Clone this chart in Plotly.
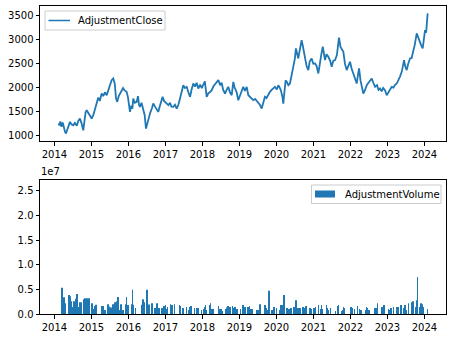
import plotly.graph_objects as go
import pandas as pd

close_dates = [
    "2014-02-10","2014-02-20","2014-03-01","2014-03-12","2014-03-24","2014-04-05","2014-04-15","2014-04-25","2014-05-08","2014-05-20","2014-06-04","2014-06-18","2014-07-06","2014-07-22","2014-08-10","2014-08-25","2014-09-10","2014-09-25","2014-10-13","2014-10-25","2014-11-05","2014-11-16","2014-11-30","2014-12-15",
    "2015-01-04","2015-01-20","2015-02-05","2015-02-22","2015-03-10","2015-03-25","2015-04-13","2015-04-28","2015-05-15","2015-06-01","2015-06-20","2015-07-05","2015-07-20","2015-08-05","2015-08-20","2015-09-01","2015-09-13","2015-09-28","2015-10-12","2015-10-27","2015-11-10","2015-11-25","2015-12-15","2015-12-28",
    "2016-01-10","2016-01-17","2016-01-30","2016-02-10","2016-02-18","2016-03-05","2016-03-23","2016-04-05","2016-04-15","2016-04-24","2016-05-10","2016-05-25","2016-06-10","2016-06-23","2016-07-05","2016-07-20","2016-08-05","2016-08-20","2016-09-03","2016-09-20","2016-10-05","2016-10-22","2016-11-05","2016-11-20","2016-12-04","2016-12-18",
    "2017-01-05","2017-01-30","2017-02-15","2017-03-01","2017-03-20","2017-04-05","2017-04-22","2017-05-10","2017-05-25","2017-06-10","2017-06-26","2017-07-12","2017-07-30","2017-08-15","2017-09-01","2017-09-15","2017-10-03","2017-10-20","2017-11-05","2017-11-21","2017-12-10","2017-12-25",
    "2018-01-10","2018-01-25","2018-02-12","2018-02-28","2018-03-15","2018-04-03","2018-04-20","2018-05-10","2018-05-25","2018-06-07","2018-06-25","2018-07-10","2018-07-25","2018-08-12","2018-08-28","2018-09-13","2018-09-30","2018-10-17","2018-11-02","2018-11-15","2018-12-05","2018-12-21",
    "2019-01-10","2019-01-25","2019-02-08","2019-02-25","2019-03-14","2019-03-30","2019-04-15","2019-05-01","2019-05-18","2019-06-05","2019-06-20","2019-07-06","2019-07-22","2019-08-09","2019-08-25","2019-09-10","2019-09-25","2019-10-10","2019-10-30","2019-11-15","2019-12-01","2019-12-18",
    "2020-01-05","2020-01-20","2020-01-30","2020-02-15","2020-03-01","2020-03-09","2020-03-20","2020-04-01","2020-04-12","2020-04-28","2020-05-14","2020-05-30","2020-06-16","2020-07-01","2020-07-12","2020-07-25","2020-08-04","2020-08-20","2020-09-06","2020-09-20","2020-10-09","2020-10-25","2020-11-11","2020-11-25","2020-12-14","2020-12-30",
    "2021-01-17","2021-02-01","2021-02-18","2021-03-05","2021-03-20","2021-04-03","2021-04-15","2021-04-25","2021-05-10","2021-05-28","2021-06-15","2021-06-30","2021-07-15","2021-08-02","2021-08-20","2021-09-01","2021-09-10","2021-09-25","2021-10-10","2021-10-23","2021-11-08","2021-11-25","2021-12-10","2021-12-28",
    "2022-01-12","2022-01-30","2022-02-15","2022-03-04","2022-03-15","2022-03-27","2022-04-10","2022-04-25","2022-05-08","2022-05-25","2022-06-11","2022-06-28","2022-07-15","2022-07-30","2022-08-15","2022-09-01","2022-09-20","2022-10-05","2022-10-20","2022-11-05","2022-11-20","2022-12-08","2022-12-25",
    "2023-01-10","2023-01-25","2023-02-12","2023-03-01","2023-03-15","2023-04-03","2023-04-20","2023-05-05","2023-05-22","2023-06-05","2023-06-14","2023-06-25","2023-07-10","2023-07-25","2023-08-12","2023-08-28","2023-09-13","2023-09-28","2023-10-17","2023-11-01","2023-11-18","2023-12-01","2023-12-15","2023-12-28",
    "2024-01-07","2024-01-18","2024-01-26","2024-02-02",
]
close_values = [
    1250,1210,1290,1180,1270,1150,1080,1036,1110,1210,1280,1230,1210,1260,1200,1300,1350,1260,1105,1300,1480,1525,1470,1400,
    1350,1420,1560,1700,1790,1720,1875,1820,1900,1840,1960,2050,2155,2190,2080,1780,1700,1820,1880,1945,1990,1940,1910,1800,
    1650,1490,1620,1560,1770,1680,1700,1820,1640,1595,1680,1550,1420,1140,1250,1400,1480,1560,1665,1600,1560,1490,1600,1720,1805,1720,
    1680,1630,1680,1600,1595,1640,1560,1650,1770,1950,2050,1990,2015,1900,1805,1950,2085,2020,2100,1980,2060,1990,
    2050,2130,1805,1880,1900,1945,2030,2080,2100,2155,2050,2100,1950,1875,1950,2015,1900,1840,2120,2000,1900,1735,
    1850,1950,2015,1930,2015,1840,1800,1780,1735,1760,1720,1700,1640,1560,1680,1805,1780,1850,1910,1950,1990,2015,
    1960,2050,2015,1940,1800,1665,1900,2150,2120,2050,2085,2250,2435,2600,2820,2700,2610,2800,2995,2850,2610,2450,2365,2550,2610,2500,
    2505,2450,2295,2550,2700,2855,2680,2575,2700,2645,2560,2435,2560,2575,2680,2900,3045,2850,2780,2750,2500,2365,2450,2540,
    2400,2295,2200,2085,2250,2400,2150,2000,1875,1950,2050,2100,2150,2190,2100,2015,2050,1950,1980,1920,1990,1945,1840,
    1900,1950,2015,2000,2050,2085,2150,2230,2330,2450,2575,2450,2365,2500,2610,2620,2750,2900,3135,3050,2925,2880,2820,3000,
    3205,3150,3310,3555,
]

volume_dates = [
    "2014-03-20","2014-04-06","2014-04-15","2014-05-25","2014-06-04","2014-06-14","2014-06-26","2014-07-13","2014-08-02","2014-08-12","2014-08-25","2014-09-13","2014-09-27","2014-10-17","2014-11-02","2014-11-16","2014-11-25","2014-12-11",
    "2015-01-10","2015-01-20","2015-01-30","2015-02-18","2015-04-09","2015-04-28","2015-05-15","2015-06-17","2015-06-30","2015-07-13","2015-08-05","2015-08-25","2015-09-07","2015-09-23","2015-10-13","2015-10-23","2015-11-12","2015-12-05","2015-12-15","2015-12-28",
    "2016-02-03","2016-02-12","2016-02-22","2016-03-13","2016-05-17","2016-05-27","2016-06-06","2016-07-05","2016-07-15","2016-07-25","2016-08-24","2016-09-22","2016-10-12","2016-11-01","2016-11-30","2016-12-17",
    "2017-01-02","2017-01-10","2017-01-20","2017-02-18","2017-02-28","2017-03-10","2017-03-30","2017-05-18","2017-05-28","2017-06-17","2017-06-26","2017-07-26","2017-08-15","2017-08-25","2017-09-13","2017-10-13","2017-11-02","2017-11-21","2017-12-21",
    "2018-01-10","2018-01-20","2018-01-30","2018-02-08","2018-03-10","2018-03-20","2018-03-30","2018-04-18","2018-06-07","2018-06-26","2018-07-06","2018-07-16","2018-08-15","2018-08-25","2018-09-04","2018-09-13","2018-10-03","2018-10-23","2018-11-02","2018-11-21","2018-12-11",
    "2019-01-10","2019-01-30","2019-02-08","2019-02-18","2019-02-25","2019-03-27","2019-04-09","2019-04-22","2019-05-08","2019-06-26","2019-07-13","2019-07-26","2019-09-04","2019-09-13","2019-09-23","2019-10-03","2019-10-23","2019-11-12","2019-11-21","2019-12-11",
    "2020-01-02","2020-01-30","2020-02-18","2020-02-28","2020-03-09","2020-03-19","2020-04-17","2020-05-07","2020-05-27","2020-06-25","2020-07-15","2020-08-04","2020-08-24","2020-09-22","2020-10-02","2020-10-12","2020-10-22","2020-11-30","2020-12-10",
    "2021-01-04","2021-01-20","2021-02-18","2021-03-10","2021-03-20","2021-03-30","2021-05-08","2021-05-18","2021-05-28","2021-06-17","2021-08-05","2021-08-25","2021-09-04","2021-10-03","2021-10-13","2021-10-23","2021-11-02",
    "2022-01-04","2022-01-20","2022-02-08","2022-03-10","2022-03-30","2022-04-18","2022-05-28","2022-06-07","2022-06-17","2022-07-06","2022-08-25","2022-09-13","2022-09-23","2022-11-02","2022-11-12","2022-11-21","2022-12-01",
    "2023-01-10","2023-01-20","2023-02-08","2023-02-28","2023-03-30","2023-04-18","2023-05-08","2023-05-18","2023-06-07","2023-06-17","2023-06-26","2023-07-06","2023-07-26","2023-08-25","2023-09-13","2023-10-03","2023-10-13","2023-10-23","2023-11-21","2023-12-01","2023-12-11","2023-12-21",
    "2024-01-30",
]
volume_values_1e7 = [
    0.53,0.34,0.22,0.385,0.36,0.26,0.14,0.26,0.31,0.405,0.14,0.24,0.24,0.30,0.32,0.32,0.18,0.32,
    0.22,0.10,0.16,0.19,0.16,0.16,0.08,0.20,0.15,0.13,0.20,0.24,0.26,0.345,0.08,0.20,0.08,0.20,0.345,0.18,
    0.20,0.49,0.19,0.12,0.19,0.30,0.24,0.49,0.15,0.195,0.22,0.12,0.22,0.12,0.12,0.16,
    0.18,0.10,0.14,0.20,0.18,0.18,0.20,0.18,0.16,0.10,0.12,0.14,0.08,0.14,0.16,0.12,0.12,0.12,0.08,
    0.10,0.14,0.18,0.08,0.18,0.22,0.10,0.10,0.16,0.10,0.10,0.06,0.10,0.13,0.14,0.16,0.14,0.16,0.12,0.14,0.10,
    0.10,0.14,0.18,0.08,0.14,0.14,0.16,0.10,0.10,0.08,0.08,0.20,0.08,0.18,0.12,0.08,0.47,0.08,0.08,0.14,
    0.12,0.08,0.18,0.14,0.18,0.385,0.12,0.10,0.12,0.14,0.28,0.12,0.12,0.14,0.12,0.10,0.16,0.12,0.10,
    0.12,0.14,0.18,0.10,0.18,0.10,0.18,0.12,0.08,0.12,0.06,0.16,0.18,0.06,0.08,0.14,0.12,
    0.14,0.12,0.10,0.16,0.10,0.08,0.08,0.14,0.12,0.08,0.12,0.12,0.22,0.14,0.12,0.14,0.18,
    0.10,0.08,0.12,0.14,0.14,0.14,0.18,0.18,0.12,0.18,0.18,0.08,0.22,0.24,0.26,0.14,0.28,0.75,0.14,0.22,0.20,0.14,
    0.10,
]
volume_values = [v * 1e7 for v in volume_values_1e7]

y1_ticks = [1000, 1500, 2000, 2500, 3000, 3500]
y2_ticks = [0.0, 0.5e7, 1.0e7, 1.5e7, 2.0e7, 2.5e7]
y2_labels = ["0.0", "0.5", "1.0", "1.5", "2.0", "2.5"]

W, H = 453, 338
BLUE = "#1f77b4"
FONT = "DejaVu Sans"


def px(x):
    return x / W


def py(y):
    return 1 - y / H


fig = go.Figure()
fig.add_trace(go.Scatter(
    x=pd.to_datetime(close_dates), y=close_values, mode="lines",
    name="AdjustmentClose", line=dict(color=BLUE, width=1.8),
    xaxis="x", yaxis="y", showlegend=False,
))
fig.add_trace(go.Bar(
    x=pd.to_datetime(volume_dates), y=volume_values, name="AdjustmentVolume",
    marker=dict(color=BLUE, line=dict(width=0)), width=6 * 86400000,
    xaxis="x2", yaxis="y2", showlegend=False,
))

xrange = ["2013-08-12", "2024-08-01"]
axis_common = dict(
    showline=True, mirror=True, linecolor="black", linewidth=1,
    ticks="outside", ticklen=3.5, tickwidth=0.8, tickcolor="black",
    showgrid=False, zeroline=False, automargin=False,
    tickfont=dict(family=FONT, size=10, color="black"),
)

shapes = [
    dict(type="rect", xref="paper", yref="paper", x0=px(45), x1=px(165), y0=py(30), y1=py(11),
         line=dict(color="#cccccc", width=1), fillcolor="rgba(255,255,255,0.8)", layer="above"),
    dict(type="line", xref="paper", yref="paper", x0=px(48.5), x1=px(70), y0=py(20.5), y1=py(20.5),
         line=dict(color=BLUE, width=1.5), layer="above"),
    dict(type="rect", xref="paper", yref="paper", x0=px(311.5), x1=px(441), y0=py(203.5), y1=py(185),
         line=dict(color="#cccccc", width=1), fillcolor="rgba(255,255,255,0.8)", layer="above"),
    dict(type="rect", xref="paper", yref="paper", x0=px(315), x1=px(335), y0=py(197.5), y1=py(190.5),
         line=dict(width=0), fillcolor=BLUE, layer="above"),
]
annotations = [
    dict(text="1e7", xref="paper", yref="paper", x=px(39), y=py(179),
         xanchor="left", yanchor="bottom", showarrow=False,
         font=dict(family=FONT, size=10, color="black")),
    dict(text="AdjustmentClose", xref="paper", yref="paper", x=px(76), y=py(20.5),
         xanchor="left", yanchor="middle", showarrow=False,
         font=dict(family=FONT, size=10, color="black")),
    dict(text="AdjustmentVolume", xref="paper", yref="paper", x=px(342.5), y=py(194),
         xanchor="left", yanchor="middle", showarrow=False,
         font=dict(family=FONT, size=10, color="black")),
]

fig.update_layout(
    width=W, height=H,
    margin=dict(l=0, r=0, t=0, b=0, autoexpand=False),
    paper_bgcolor="white", plot_bgcolor="white",
    showlegend=False,
    xaxis=dict(domain=[px(40), px(446)], anchor="y", type="date",
               range=xrange, dtick="M12", tick0="2014-01-01", tickformat="%Y", **axis_common),
    yaxis=dict(domain=[py(141.3), py(6)], anchor="x",
               range=[874, 3709], tickvals=y1_ticks, **axis_common),
    xaxis2=dict(domain=[px(40), px(446)], anchor="y2", type="date",
                range=xrange, dtick="M12", tick0="2014-01-01", tickformat="%Y", **axis_common),
    yaxis2=dict(domain=[py(314), py(180)], anchor="x2",
                range=[0, 2.717e7], tickvals=y2_ticks, ticktext=y2_labels, **axis_common),
    shapes=shapes,
    annotations=annotations,
)
fig.write_html("out.html")
